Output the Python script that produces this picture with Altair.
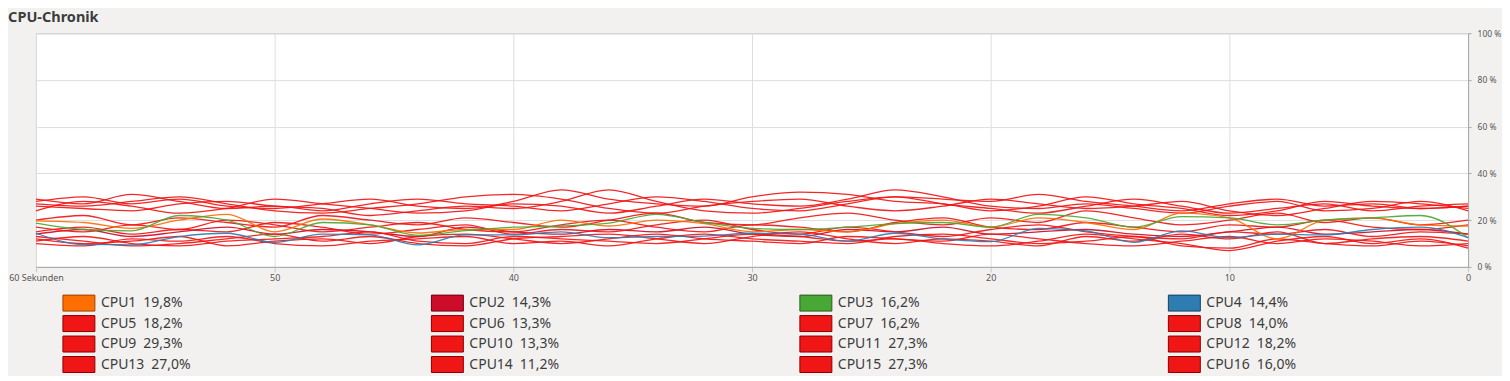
import altair as alt
import pandas as pd

# seconds ago (60 -> 0, every 2 s)
seconds = list(range(60, -1, -2))

cpu_names = [f"CPU{i}" for i in range(1, 17)]
cpu_now = ["19,8%", "14,3%", "16,2%", "14,4%", "18,2%", "13,3%", "16,2%", "14,0%",
           "29,3%", "13,3%", "27,3%", "18,2%", "27,0%", "11,2%", "27,3%", "16,0%"]
fill_colors = ["#ff6e00", "#cc0c29", "#49a835", "#2d7db3"] + ["#f01616"] * 12
edge_colors = ["#9a4200", "#6e0014", "#2a5a1e", "#183f5c"] + ["#8a0000"] * 12

cpu1 = [19.7, 19, 16.5, 20, 22.5, 15, 20.5, 18, 14.5, 16, 16, 20, 17.5, 20, 18.5, 15,
        16, 15, 18.5, 20, 17, 21, 19, 16, 23, 21, 12, 20, 21, 18, 17.5]
cpu2 = [14, 16, 13, 15, 17, 14, 16, 15, 13, 17, 15, 14, 16, 15, 17, 14,
        13, 16, 15, 17, 14, 15, 16, 14, 13, 15, 17, 14, 15, 16, 14]
cpu3 = [18.7, 16, 15.4, 22, 20, 13, 19, 18, 13.5, 15.5, 17, 17.5, 18.7, 22.5, 19, 16.5,
        16, 17, 18.5, 19, 17, 22.5, 21, 17, 21.5, 21, 18, 20, 21, 22, 12.5]
cpu4 = [14.4, 9.6, 9.4, 13, 14.4, 10.5, 14, 13.7, 9.4, 13.7, 13.7, 15, 12.5, 13, 13.2, 14.4,
        14, 11, 14.4, 12, 10.8, 16.5, 15.4, 10.5, 15.4, 12.5, 14, 13.7, 16, 17, 12.5]
cpu5 = [28, 30, 27, 29, 26, 25, 27, 29, 26, 25, 28, 33, 29, 27, 26, 30,
        32, 31, 28, 27, 24, 26, 30, 27, 25, 22, 24, 28, 26, 25, 26]
cpu6 = [12, 10, 11, 13, 9, 11, 12, 10, 13, 14, 12, 10, 12, 14, 12, 11,
        10, 13, 12, 11, 14, 12, 10, 9, 11, 13, 10, 12, 11, 9, 10]
cpu7 = [17, 15, 18, 16, 20, 18, 15, 17, 19, 16, 15, 18, 20, 17, 15, 18,
        17, 15, 19, 21, 17, 16, 19, 17, 15, 18, 17, 20, 17, 16, 18]
cpu8 = [13, 11, 9, 10, 12, 14, 11, 13, 10, 9, 12, 13, 14, 12, 10, 13,
        15, 12, 10, 12, 11, 9, 13, 11, 14, 12, 15, 10, 12, 13, 11]
cpu9 = [29, 27, 31, 28, 25, 26, 24, 27, 29, 27, 26, 24, 27, 30, 28, 25,
        24, 27, 30, 29, 28, 31, 28, 26, 24, 27, 29, 26, 27, 25, 26]
cpu10 = [10, 9, 12, 11, 13, 10, 9, 11, 12, 13, 10, 11, 9, 12, 14, 12,
         11, 10, 13, 14, 12, 10, 11, 13, 9, 8, 12, 10, 9, 11, 9]
cpu11 = [27, 26, 28, 30, 27, 24, 23, 25, 27, 30, 31, 29, 25, 23, 26, 28,
         29, 26, 24, 26, 29, 27, 25, 26, 28, 24, 22, 25, 28, 27, 25]
cpu12 = [20, 22, 18, 21, 19, 17, 22, 20, 18, 21, 19, 17, 20, 23, 19, 18,
         21, 23, 20, 18, 21, 19, 24, 21, 18, 20, 23, 19, 21, 18, 20]
cpu13 = [26, 25, 24, 27, 28, 26, 25, 22, 24, 26, 25, 28, 33, 28, 24, 23,
         25, 28, 30, 27, 25, 23, 26, 29, 26, 23, 25, 27, 24, 26, 27]
cpu14 = [11, 13, 10, 9, 11, 12, 13, 15, 11, 10, 13, 12, 11, 10, 12, 14,
         13, 11, 12, 10, 9, 11, 14, 12, 10, 7, 11, 13, 10, 12, 8]
cpu15 = [24, 28, 26, 23, 25, 29, 27, 25, 23, 24, 27, 26, 23, 26, 29, 27,
         26, 29, 33, 30, 26, 25, 27, 25, 23, 26, 28, 24, 25, 28, 24]
cpu16 = [15, 17, 14, 16, 15, 19, 17, 14, 16, 18, 14, 16, 15, 18, 20, 16,
         14, 17, 15, 13, 16, 18, 15, 13, 12, 15, 14, 16, 13, 15, 14]

series = [cpu1, cpu2, cpu3, cpu4, cpu5, cpu6, cpu7, cpu8,
          cpu9, cpu10, cpu11, cpu12, cpu13, cpu14, cpu15, cpu16]

colored_cpus = ["CPU1", "CPU3", "CPU4"]

rows = []
for name, vals in zip(cpu_names, series):
    for t, v in zip(seconds, vals):
        rows.append({"cpu": name, "t": t, "v": v,
                     "top": name in colored_cpus})
lines_df = pd.DataFrame(rows)

legend_df = pd.DataFrame({
    "cpu": cpu_names,
    "label": [f"{n}\u2002{v}" for n, v in zip(cpu_names, cpu_now)],
    "col": [i % 4 for i in range(16)],
    "row": [i // 4 for i in range(16)],
})

FONT = "Noto Sans"
TXT = "#3c3c3c"

color_scale = alt.Scale(domain=cpu_names, range=fill_colors)
edge_scale = alt.Scale(domain=cpu_names, range=edge_colors)

x_enc = alt.X("t:Q", scale=alt.Scale(domain=[60, 0], nice=False),
              axis=alt.Axis(values=[60, 50, 40, 30, 20, 10, 0], title=None,
                            labelExpr="datum.value == 60 ? '60 Sekunden' : datum.label",
                            labelFlush=False, labelOverlap=False,
                            grid=True, gridColor="#dedede",
                            domainColor="#a8a8a8", tickColor="#c8c8c8", tickSize=5,
                            labelFont=FONT, labelFontSize=9, labelColor="#555555",
                            labelPadding=2))
y_enc = alt.Y("v:Q", scale=alt.Scale(domain=[0, 100], nice=False),
              axis=alt.Axis(orient="right", values=[0, 20, 40, 60, 80, 100], title=None,
                            labelExpr="datum.value + ' %'",
                            grid=True, gridColor="#dedede",
                            domainColor="#a8a8a8", tickColor="#a8a8a8", tickSize=3,
                            labelFont=FONT, labelFontSize=8.5, labelColor="#555555",
                            labelPadding=6))

base_lines = alt.Chart(lines_df).mark_line(
    interpolate="monotone", strokeWidth=1.3, opacity=0.92
).encode(
    x=x_enc, y=y_enc,
    color=alt.Color("cpu:N", scale=color_scale, legend=None),
    detail="cpu:N",
)

red_layer = base_lines.transform_filter("!datum.top")
top_layer = base_lines.transform_filter("datum.top")

plot = alt.layer(red_layer, top_layer).properties(width=1434, height=234)

legend_base = alt.Chart(legend_df).encode(
    x=alt.X("col:Q", scale=alt.Scale(domain=[0, 3.9], nice=False), axis=None),
    y=alt.Y("row:O", scale=alt.Scale(paddingInner=0, paddingOuter=0), axis=None),
)

swatches = legend_base.mark_point(
    shape="M-1,-0.5H1V0.5H-1Z", size=1024, filled=True, opacity=1,
    strokeWidth=1, xOffset=43
).encode(
    fill=alt.Fill("cpu:N", scale=color_scale, legend=None),
    stroke=alt.Stroke("cpu:N", scale=edge_scale, legend=None),
)

labels = legend_base.mark_text(
    align="left", baseline="middle", dx=65, font=FONT, fontSize=14, color=TXT
).encode(text="label:N")

legend = (swatches + labels).properties(
    width=1439, height=82,
    view=alt.ViewBackground(fill="transparent", stroke="transparent"),
)

chart = alt.vconcat(plot, legend, spacing=8).properties(
    padding={"left": 0, "top": 2, "right": 0, "bottom": 0},
    title=alt.TitleParams("CPU-Chronik", anchor="start", frame="bounds",
                          font=FONT, fontSize=14.5, fontWeight="bold",
                          color=TXT, offset=3)
).configure(
    background="#f2f1f0"
).configure_view(
    fill="white", stroke="#aaaaaa"
)

chart.save("out.html", embed_options={"renderer": "svg", "actions": False})
